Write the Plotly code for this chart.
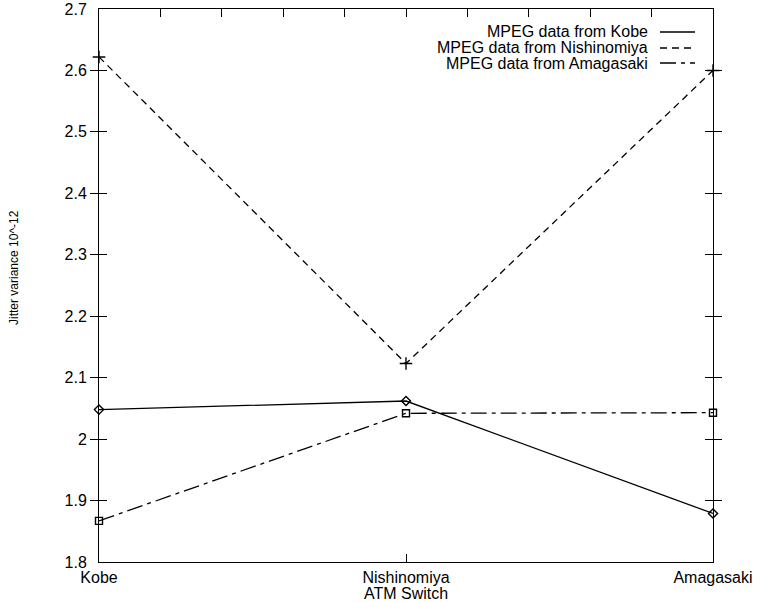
import plotly.graph_objects as go

# Switch locations along the x axis
switches = ["Kobe", "Nishinomiya", "Amagasaki"]

# Jitter variance (x 10^-12) measured at each switch, per MPEG source
kobe = [2.048, 2.062, 1.879]
nishinomiya = [2.622, 2.123, 2.600]
amagasaki = [1.867, 2.042, 2.043]

series_names = [
    "MPEG data from Kobe",
    "MPEG data from Nishinomiya",
    "MPEG data from Amagasaki",
]

FONT = "Liberation Sans"
L, R, T, B = 99, 47, 9, 40
W, H = 760, 602
PW, PH = W - L - R, H - T - B

styles = [
    dict(dash="solid", symbol="diamond-open", msize=7),
    dict(dash="7px,5px", symbol="cross-thin", msize=9),
    dict(dash="16px,5px,4px,5px", symbol="square-open", msize=7),
]

fig = go.Figure()
for name, vals, st in zip(series_names, [kobe, nishinomiya, amagasaki], styles):
    fig.add_trace(go.Scatter(
        x=switches, y=vals, name=name, mode="lines+markers",
        line=dict(color="black", width=1.3, dash=st["dash"]),
        marker=dict(symbol=st["symbol"], size=st["msize"], color="black",
                    line=dict(color="black", width=1.4)),
        showlegend=False, cliponaxis=False,
    ))

# invisible trace to drive the top tick axis
fig.add_trace(go.Scatter(x=[0, 2], y=[1.8, 1.8], xaxis="x2", mode="none",
                         showlegend=False, hoverinfo="skip"))

# gnuplot-style key: right-aligned text followed by a line sample
row_px = [32, 48, 63]
text_right = (650 - L) / PW
samp0, samp1 = (660 - L) / PW, (695 - L) / PW
for name, st, ypx in zip(series_names, styles, row_px):
    yp = (H - B - ypx) / PH
    fig.add_annotation(x=text_right, y=yp, xref="paper", yref="paper",
                       text=name, showarrow=False, xanchor="right",
                       yanchor="middle", font=dict(family=FONT, size=16, color="black"))
    fig.add_shape(type="line", xref="paper", yref="paper",
                  x0=samp0, x1=samp1, y0=yp, y1=yp,
                  line=dict(color="black", width=1.3, dash=st["dash"]))

# y-axis label
fig.add_annotation(x=(14 - L) / PW, y=(H - B - 268) / PH, xref="paper", yref="paper",
                   text="Jitter variance 10^-12", textangle=-90, showarrow=False,
                   xanchor="center", yanchor="middle",
                   font=dict(family=FONT, size=12, color="black"))

fig.update_layout(
    width=W, height=H,
    margin=dict(l=L, r=R, t=T, b=B, autoexpand=False),
    plot_bgcolor="white", paper_bgcolor="white",
    font=dict(family=FONT, size=16, color="black"),
    xaxis=dict(
        type="category", range=[0, 2], tickvals=switches,
        ticks="inside", ticklen=8, tickcolor="black", tickwidth=1,
        showline=True, linecolor="black", linewidth=1, showgrid=False,
        zeroline=False, ticklabelstandoff=1,
        title=dict(text="ATM Switch", standoff=0,
                   font=dict(family=FONT, size=16, color="black")),
        automargin=False,
    ),
    xaxis2=dict(
        overlaying="x", side="top", range=[0, 2], dtick=0.2, tick0=0,
        ticks="inside", ticklen=8, tickcolor="black", showticklabels=False,
        showline=True, linecolor="black", linewidth=1, showgrid=False,
        zeroline=False, automargin=False,
    ),
    yaxis=dict(
        range=[1.8, 2.7], dtick=0.1, tick0=1.8,
        ticks="inside", ticklen=8, tickcolor="black", tickwidth=1,
        showline=True, linecolor="black", linewidth=1, mirror="allticks",
        showgrid=False, zeroline=False, ticklabelstandoff=8,
        automargin=False,
    ),
)

fig.write_html("out.html")
